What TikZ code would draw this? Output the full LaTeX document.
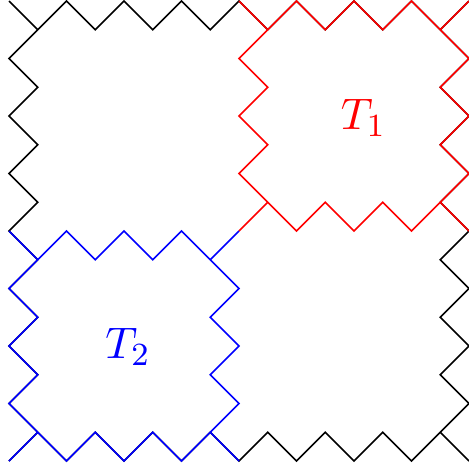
\documentclass[tikz,border=0pt]{standalone}
\begin{document}
\begin{tikzpicture}[x=0.25cm,y=-0.25cm,line width=0.4pt,line join=miter,
  pics/zsq/.style={code={
    \draw[pic actions] (0,0)
      \foreach \i in {1,...,#1} { -- (\i,{mod(\i,2)}) }
      \foreach \j in {1,...,#1} { -- ({#1-mod(\j,2)},\j) }
      \foreach \i in {1,...,#1} { -- ({#1-\i},{#1-mod(\i,2)}) }
      \foreach \j in {1,...,#1} { -- ({mod(\j,2)},{#1-\j}) } -- cycle;
  }},
  lbl/.style={font=\fontsize{10.85}{13}\selectfont, inner sep=0pt}]
\useasboundingbox (-0.313,-0.035) rectangle (16.0,16.243);
\pic[black] (outer) at (0,0) {zsq=16};
\pic[red] (tone) at (8,0) {zsq=8};
\pic[blue] (ttwo) at (0,8) {zsq=8};
\node[lbl, red] (t1) at (12.33,4.07) {$T_1$};
\node[lbl, blue] (t2) at (4.14,12.02) {$T_2$};
\end{tikzpicture}
\end{document}
